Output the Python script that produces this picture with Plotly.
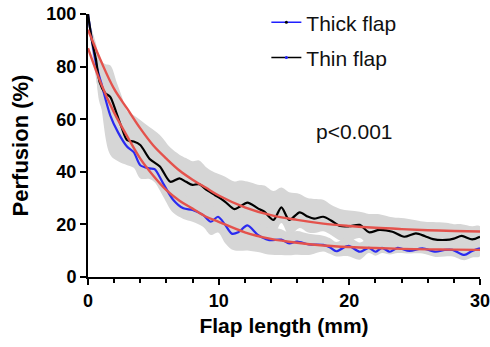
import plotly.graph_objects as go

# ---------------- data ----------------
thick_x = [0, 0.3, 0.66, 1.0, 1.7, 2.3, 3.0, 3.5, 4.0, 4.7, 5.1, 5.75, 6.5, 7.3, 8.0, 8.8, 9.4, 9.95,
           10.5, 11.0, 11.5, 12.2, 13.0, 13.8, 14.8, 15.4, 16.0, 16.9, 18.0, 18.5, 19.0, 19.7, 20.0,
           20.8, 21.5, 22.0, 22.5, 23.1, 23.7, 24.6, 25.6, 26.6, 27.3, 27.9, 28.8, 29.4, 30.0]
thick_y = [100, 90, 80, 74, 61.5, 55, 49.5, 47.5, 42.5, 41.3, 41, 35.6, 29.5, 26.1, 25.5, 23.6, 21, 22.9,
           19.8, 16.5, 17, 19.6, 16, 14.1, 14.2, 12.8, 13.5, 12.4, 12.2, 11.3, 9.8, 11.5, 11.8,
           9.6, 11.1, 9.6, 11.1, 9.6, 11.1, 9.9, 10.9, 9.6, 10.3, 10.3, 8.4, 9.9, 10.9]
thick_err_lo = [0, 3, 6, 9, 15, 11, 7, 6, 5, 4, 5, 5, 5, 4, 4.5, 4.5, 5, 6,
                7, 6, 7, 9.5, 6.5, 5.5, 5.8, 4.5, 5, 4, 2.5, 2.5, 2, 3.5, 4,
                3, 2, 1.5, 2, 1, 2, 1, 2, 2, 2.5, 2.5, 2, 2.5, 3]
thick_err_hi = [0, 3, 5, 7, 8, 8, 7, 7, 6, 6, 6, 6, 6, 5, 5, 5, 5, 5,
                5, 5, 5, 5, 4.5, 4.5, 4, 4, 4, 4, 3.5, 3.5, 3.5, 3.5, 3.5,
                3.5, 3.5, 3.5, 3.5, 3.5, 3.5, 3.5, 3.5, 3.5, 3.5, 3.5, 3.5, 3.5, 3.5]

thin_x = [0, 0.3, 0.6, 0.9, 1.3, 1.7, 2.2, 2.6, 3.0, 3.5, 4.0, 4.7, 5.5, 6.3, 7.0, 7.5, 8.0, 8.5, 9.1,
          9.7, 10.1, 10.5, 11.2, 11.6, 12.2, 13.0, 13.5, 14.2, 14.8, 15.4, 16.2, 16.8, 17.3, 18.0,
          18.6, 19.3, 20.0, 20.8, 21.5, 22.3, 23.3, 24.2, 25.1, 25.8, 26.4, 27.4, 28.0, 28.6, 29.4, 30.0]
thin_y = [100, 90, 83, 74, 70, 68.5, 62, 56.5, 52, 51.5, 50.2, 45, 42, 36.2, 37.5, 36.2, 35, 35.3, 33,
          31.2, 30, 28.6, 25.8, 26.7, 28.3, 26.1, 24.8, 21.7, 26.5, 21.7, 24.6, 23, 22.2, 22.9,
          21.5, 19.4, 19.3, 19.8, 17, 17.9, 17.2, 15.3, 16.6, 15.5, 14.4, 14.1, 14.6, 15.6, 14.3, 15.3]
thin_err_hi = [0, 4, 6, 9, 11, 12, 12, 12, 11, 10, 9.5, 12, 12, 13, 9, 9, 9, 9, 8.5,
               8.5, 9, 9.5, 10.5, 10, 8, 9, 10, 11, 7.5, 10.5, 7, 7, 7.5, 6.5,
               6, 6.5, 6, 5, 7, 6, 5.5, 7, 5, 5.5, 6.5, 6.5, 5.5, 4.5, 5, 4]
thin_err_lo = [0, 4, 6, 8, 8, 8, 8, 8, 8, 8, 8, 7, 7, 7, 7, 7, 7, 7, 7,
               7, 7, 7, 7, 7, 7, 7, 7, 6, 6, 6, 6, 6, 5.5, 5.5,
               5.5, 5.5, 5.5, 5, 5, 5, 5, 5, 5, 5, 5, 5, 5, 5, 5, 5]

fit_x = [0, 1, 2, 3, 4, 5, 6, 7, 8, 9, 10, 12, 14, 16, 18, 20, 22, 24, 26, 28, 30]
thick_fit = [87, 73.5, 62.5, 53.5, 45, 38.5, 33, 29, 26, 23, 21, 17, 14.5, 13, 12, 11.4, 11, 10.7, 10.5, 10.4, 10.3]
thin_fit = [94, 82, 71.5, 64, 56.5, 50, 45, 40.5, 37, 34, 31, 26.5, 23.5, 21.7, 20.3, 19.4, 18.7, 18.2, 17.8, 17.5, 17.3]

x_ticks = [0, 10, 20, 30]
y_ticks = [0, 20, 40, 60, 80, 100]
series_names = ["Thick flap", "Thin flap"]
p_text = "p<0.001"

# ---------------- styling ----------------
FONT = "Liberation Sans, Arial, sans-serif"
BAND = "#d6d6d6"
BLUE = "#2b2bf0"
BLACK = "#000000"
RED = "#e4524c"

fig = go.Figure()


def band(xs, ys, lo, hi):
    upper = [y + h for y, h in zip(ys, hi)]
    lower = [y - l for y, l in zip(ys, lo)]
    return go.Scatter(x=xs + xs[::-1], y=upper + lower[::-1], fill="toself", fillcolor=BAND,
                      line=dict(width=0, shape="spline"), mode="lines", hoverinfo="skip", showlegend=False)


fig.add_trace(band(thin_x, thin_y, thin_err_lo, thin_err_hi))
fig.add_trace(band(thick_x, thick_y, thick_err_lo, thick_err_hi))

fig.add_trace(go.Scatter(x=thick_x, y=thick_y, mode="lines", line=dict(color=BLUE, width=2.2, shape="spline", smoothing=0.8),
                         showlegend=False))
fig.add_trace(go.Scatter(x=thin_x, y=thin_y, mode="lines", line=dict(color=BLACK, width=2.2, shape="spline", smoothing=0.8),
                         showlegend=False))
fig.add_trace(go.Scatter(x=fit_x, y=thick_fit, mode="lines", line=dict(color=RED, width=2.4, shape="spline"),
                         showlegend=False))
fig.add_trace(go.Scatter(x=fit_x, y=thin_fit, mode="lines", line=dict(color=RED, width=2.4, shape="spline"),
                         showlegend=False))

# legend entries
fig.add_trace(go.Scatter(x=[None], y=[None], mode="lines+markers", name=series_names[0], legendgroup="a",
                         line=dict(color="#1f1fff", width=1.5), marker=dict(color=BLACK, size=3)))
fig.add_trace(go.Scatter(x=[None], y=[None], mode="lines+markers", name=series_names[1], legendgroup="b",
                         line=dict(color=BLACK, width=1.5), marker=dict(color="#1f1fff", size=3)))

fig.add_annotation(x=20.4, y=55.5, text=p_text, showarrow=False, xanchor="center", yanchor="middle",
                   font=dict(family=FONT, size=21, color="#111"))

axis_common = dict(showline=True, linecolor="black", linewidth=2, ticks="outside", tickwidth=2,
                   ticklen=6, tickcolor="black", showgrid=False, zeroline=False, automargin=False,
                   ticklabeloverflow="allow",
                   tickfont=dict(family=FONT, size=18, color="black", weight="bold"))

fig.update_xaxes(range=[0, 30], tickvals=x_ticks,
                 minor=dict(dtick=2, ticks="outside", ticklen=4, tickwidth=1.5, tickcolor="black", tick0=0),
                 title=dict(text="<b>Flap length (mm)</b>", font=dict(family=FONT, size=21, color="black"), standoff=9),
                 **axis_common)
fig.update_yaxes(range=[0, 100], tickvals=y_ticks,
                 title=dict(text="<b>Perfusion (%)</b>", font=dict(family=FONT, size=22, color="black"), standoff=12),
                 **axis_common)

fig.update_layout(
    width=490, height=347,
    margin=dict(l=88, r=10, t=14, b=70, autoexpand=False),
    plot_bgcolor="white", paper_bgcolor="white",
    font=dict(family=FONT),
    legend=dict(x=0.455, y=1.045, xanchor="left", yanchor="top", bgcolor="rgba(0,0,0,0)",
                font=dict(family=FONT, size=21, color="#111"), tracegroupgap=5, traceorder="grouped"),
)

# remove the page's default 8px body margin so the figure fills the 490x347 window exactly
fig.write_html("out.html", config={"displayModeBar": False},
               post_script="document.body.style.margin='0px';")
